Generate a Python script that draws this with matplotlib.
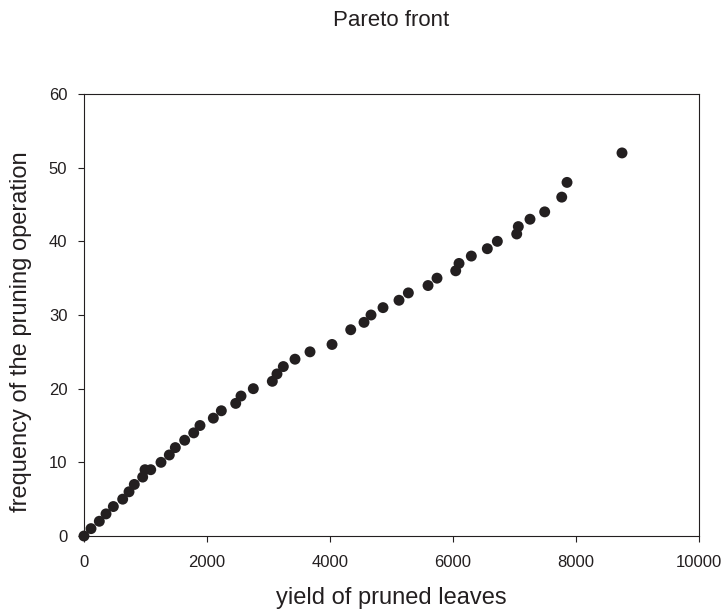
import matplotlib
matplotlib.use("Agg")
import matplotlib.pyplot as plt

# Pareto front values
yield_leaves = [0, 114, 249, 358, 477, 629, 732, 818, 954, 992, 1085, 1252,
                1387, 1485, 1637, 1784, 1886, 2103, 2233, 2467, 2553, 2753,
                3062, 3138, 3241, 3431, 3675, 4033, 4337, 4553, 4667, 4862,
                5122, 5274, 5594, 5740, 6044, 6098, 6298, 6558, 6721, 7036,
                7062, 7252, 7491, 7768, 7854, 8748]
frequency = [0, 1, 2, 3, 4, 5, 6, 7, 8, 9, 9, 10,
             11, 12, 13, 14, 15, 16, 17, 18, 19, 20,
             21, 22, 23, 24, 25, 26, 28, 29, 30, 31,
             32, 33, 34, 35, 36, 37, 38, 39, 40, 41,
             42, 43, 44, 46, 48, 52]

x_ticks = [0, 2000, 4000, 6000, 8000, 10000]
y_ticks = [0, 10, 20, 30, 40, 50, 60]

ink = "#231f20"
plt.rcParams["font.family"] = ["Liberation Sans", "DejaVu Sans"]

fig = plt.figure(figsize=(7.22, 6.15), dpi=100)
ax = fig.add_axes([84 / 722, 1 - 536 / 615, 615 / 722, 442 / 615])

ax.scatter(yield_leaves, frequency, s=62, color=ink, edgecolors="none",
           clip_on=False, zorder=3)

ax.set_xlim(0, 10000)
ax.set_ylim(0, 60)
ax.set_xticks(x_ticks)
ax.set_yticks(y_ticks)
ax.tick_params(axis="both", direction="out", length=4.5, width=0.8,
               colors=ink, labelsize=12)
ax.tick_params(axis="x", pad=9)
ax.tick_params(axis="y", pad=7.5)
for sp in ax.spines.values():
    sp.set_linewidth(0.8)
    sp.set_color(ink)

ax.set_xlabel("yield of pruned leaves", fontsize=17, color=ink, va="center")
ax.xaxis.set_label_coords(0.5, -(598 - 536) / 442)
ax.set_ylabel("frequency of the pruning operation", fontsize=17, color=ink,
              va="center")
ax.yaxis.set_label_coords(-(84 - 21) / 615, (536 - 332) / 442)
ax.set_title("Pareto front", fontsize=16, color=ink, va="center",
             y=(536 - 20) / 442, pad=0)

fig.savefig("out.png", dpi=100)
